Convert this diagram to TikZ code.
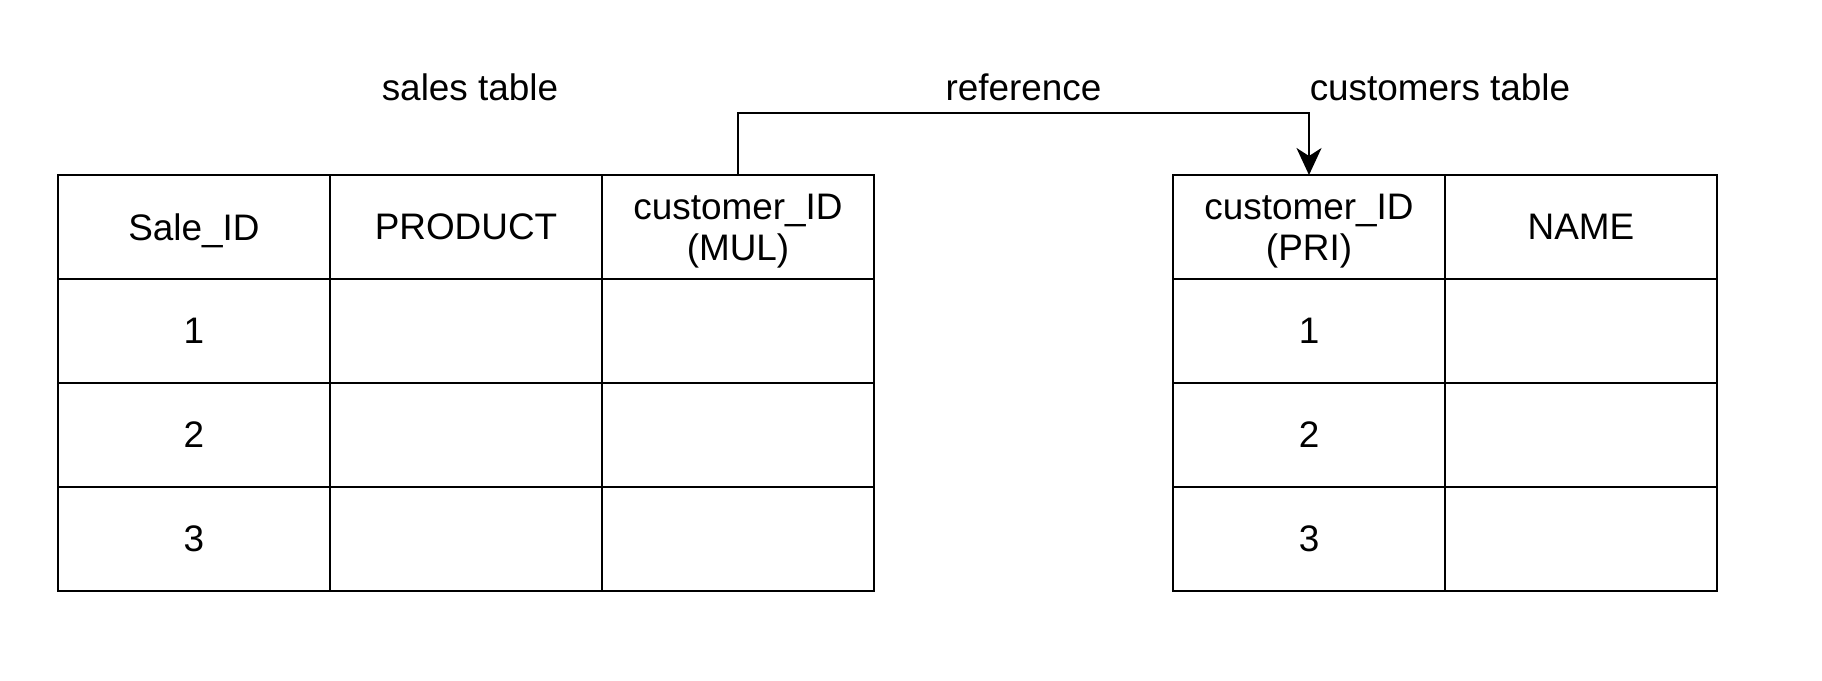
\documentclass[tikz,border=0pt]{standalone}
\usepackage{fontspec}
\setmainfont{Liberation Sans}
\usetikzlibrary{arrows.meta, positioning}

\begin{document}
\begin{tikzpicture}[% styles used in image code
          > = {Stealth[length=2.7mm, width=2.5mm, inset=0.8mm]},
every node/.style = {font=\fontsize{10.5}{11.6}\selectfont},
   cell/.style = {draw, line width=0.65pt,
                  minimum width=27.2mm, minimum height=10.4mm,
                  text depth=0pt,
                  inner sep=0pt, outer sep=0pt, align=center},
  title/.style = {anchor=base, inner sep=0pt}
                    ]
	\useasboundingbox (0,0) rectangle (18.22,6.8);

	% sales table
	\node[cell] (s11) at (1.94,4.53) {Sale\_ID};
	\node[cell, right=0pt of s11] (s12) {PRODUCT};
	\node[cell, right=0pt of s12] (s13) {customer\_ID\\(MUL)};
	\foreach \r [count=\p from 1] in {2,3,4}
	{
		\node[cell, below=0pt of s\p1] (s\r1) {\p};
		\node[cell, below=0pt of s\p2] (s\r2) {};
		\node[cell, below=0pt of s\p3] (s\r3) {};
	}

	% customers table
	\node[cell] (c11) at (13.09,4.53) {customer\_ID\\(PRI)};
	\node[cell, right=0pt of c11] (c12) {NAME};
	\foreach \r [count=\p from 1] in {2,3,4}
	{
		\node[cell, below=0pt of c\p1] (c\r1) {\p};
		\node[cell, below=0pt of c\p2] (c\r2) {};
	}

	% titles
	\node[title] (salesT) at (4.70,5.80) {sales table};
	\node[title] (custT)  at (14.40,5.80) {customers table};

	% foreign key reference
	\draw[->, line width=0.65pt] (s13.north) -- ++(0,0.62) -| (c11.north)
		node[title, pos=0.25, yshift=1.3mm] (refT) {reference};
\end{tikzpicture}
\end{document}
